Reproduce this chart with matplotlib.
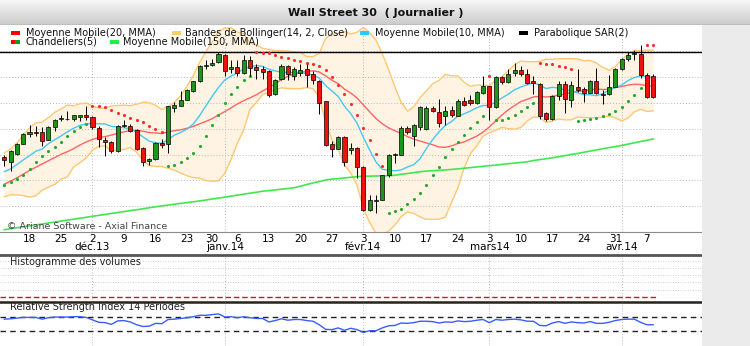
import numpy as np
import matplotlib
matplotlib.use('Agg')
import matplotlib.pyplot as plt
import matplotlib.transforms as mtrans
from matplotlib.patches import Rectangle
from matplotlib.colors import LinearSegmentedColormap
from matplotlib.ticker import MultipleLocator

W, H = 750, 346

# trading days 12 nov 2013 -> 8 apr 2014 (index positions), weekly + monthly labels
day_pos = [4, 9, 14, 19, 24, 29, 33, 37, 42, 47, 52, 57, 62, 67, 72, 77, 82, 87, 92, 97, 102]
day_labels = ['18', '25', '2', '9', '16', '23', '30', '6', '13', '20', '27', '3', '10', '17',
              '24', '3', '10', '17', '24', '31', '7']
month_pos = [14, 35, 57, 77, 98]
month_labels = ['déc.13', 'janv.14', 'févr.14', 'mars14', 'avr.14']

opens = [15782, 15743, 15808, 15885, 15962, 15975, 15975, 15916, 16014, 16076,
         16078, 16076, 16092, 16110, 16090, 16005, 15915, 15895, 15826, 16022,
         16025, 15989, 15852, 15748, 15762, 15890, 15880, 16161, 16180, 16226,
         16290, 16368, 16490, 16497, 16515, 16574, 16460, 16480, 16432, 16530,
         16478, 16463, 16445, 16270, 16385, 16484, 16412, 16432, 16463, 16427,
         16368, 16213, 15883, 15844, 15937, 15835, 15850, 15705, 15369, 15440,
         15447, 15638, 15797, 15800, 16007, 15942, 16010, 15995, 16161, 16128,
         16100, 16143, 16102, 16213, 16226, 16200, 16277, 16329, 16169, 16401,
         16360, 16430, 16455, 16428, 16371, 16345, 16119, 16072, 16254, 16345,
         16225, 16326, 16305, 16279, 16373, 16268, 16269, 16326, 16462, 16540,
         16580, 16582, 16418, 16410]
highs = [15800, 15835, 15890, 15968, 16030, 16020, 16010, 16025, 16076, 16110,
         16135, 16110, 16110, 16180, 16097, 16020, 15940, 15903, 16032, 16066,
         16035, 16000, 15860, 15775, 15895, 15920, 16180, 16205, 16290, 16308,
         16370, 16492, 16535, 16540, 16593, 16582, 16535, 16530, 16573, 16560,
         16500, 16485, 16453, 16385, 16505, 16497, 16480, 16505, 16505, 16445,
         16375, 16215, 15903, 15947, 15942, 15890, 15860, 15710, 15490, 15490,
         15645, 15808, 15813, 16025, 16025, 16040, 16175, 16180, 16180, 16230,
         16174, 16180, 16232, 16245, 16265, 16290, 16406, 16334, 16410, 16411,
         16463, 16510, 16488, 16460, 16410, 16358, 16130, 16260, 16370, 16370,
         16370, 16462, 16326, 16378, 16470, 16300, 16417, 16470, 16548, 16592,
         16608, 16652, 16431, 16425]
lows = [15710, 15676, 15800, 15880, 15935, 15945, 15865, 15911, 15980, 16060,
        16070, 16060, 16060, 16070, 15999, 15860, 15787, 15813, 15818, 16014,
        15975, 15835, 15710, 15723, 15757, 15852, 15813, 16128, 16174, 16220,
        16285, 16360, 16463, 16489, 16510, 16410, 16432, 16410, 16425, 16410,
        16385, 16385, 16245, 16265, 16380, 16380, 16380, 16405, 16324, 16350,
        16112, 15870, 15782, 15840, 15710, 15805, 15620, 15360, 15362, 15350,
        15445, 15630, 15736, 15800, 15963, 15865, 15990, 15990, 16128, 16015,
        16032, 16090, 16097, 16174, 16187, 16195, 16272, 16071, 16161, 16350,
        16355, 16412, 16410, 16345, 16267, 16072, 16060, 16070, 16224, 16124,
        16169, 16287, 16208, 16274, 16269, 16190, 16260, 16320, 16452, 16522,
        16530, 16392, 16242, 16242]
closes = [15756, 15831, 15883, 15963, 15975, 15968, 15903, 16014, 16071, 16080,
          16075, 16104, 16104, 16090, 16014, 15920, 15898, 15826, 16025, 16028,
          15985, 15840, 15741, 15765, 15890, 15878, 16174, 16187, 16226, 16303,
          16368, 16489, 16497, 16510, 16582, 16445, 16480, 16432, 16535, 16471,
          16452, 16440, 16265, 16375, 16490, 16425, 16463, 16458, 16420, 16380,
          16200, 15878, 15844, 15937, 15741, 15852, 15705, 15369, 15447, 15447,
          15638, 15800, 15803, 16007, 15973, 16032, 16165, 16160, 16135, 16045,
          16135, 16110, 16213, 16187, 16200, 16283, 16329, 16169, 16401, 16360,
          16427, 16456, 16428, 16358, 16353, 16098, 16072, 16254, 16345, 16228,
          16340, 16300, 16279, 16373, 16274, 16264, 16326, 16462, 16540, 16574,
          16582, 16418, 16248, 16248]

ma10 = [15668, 15689, 15723, 15758, 15791, 15826, 15842, 15884, 15915, 15944,
        15976, 16004, 16026, 16038, 16042, 16038, 16037, 16018, 16014, 16008,
        15999, 15973, 15937, 15904, 15892, 15888, 15915, 15951, 15971, 15999,
        16037, 16102, 16178, 16252, 16321, 16378, 16409, 16433, 16464, 16481,
        16489, 16484, 16461, 16448, 16438, 16436, 16435, 16437, 16426, 16417,
        16392, 16335, 16293, 16250, 16175, 16117, 16042, 15933, 15835, 15742,
        15686, 15678, 15674, 15681, 15704, 15722, 15768, 15847, 15916, 15976,
        16026, 16056, 16098, 16116, 16138, 16163, 16180, 16181, 16207, 16239,
        16268, 16302, 16324, 16341, 16356, 16338, 16312, 16321, 16315, 16302,
        16293, 16278, 16263, 16264, 16256, 16273, 16298, 16319, 16339, 16373,
        16397, 16409, 16406, 16394]
ma20 = [15571, 15594, 15620, 15648, 15677, 15702, 15727, 15752, 15777, 15802,
        15822, 15846, 15874, 15898, 15917, 15932, 15939, 15951, 15964, 15976,
        15988, 15988, 15981, 15971, 15967, 15963, 15976, 15985, 15992, 16004,
        16018, 16038, 16057, 16078, 16107, 16133, 16162, 16192, 16218, 16240,
        16263, 16293, 16319, 16350, 16380, 16407, 16422, 16435, 16445, 16449,
        16440, 16410, 16377, 16349, 16307, 16277, 16238, 16185, 16131, 16079,
        16039, 16007, 15984, 15965, 15939, 15920, 15905, 15890, 15876, 15859,
        15856, 15867, 15886, 15898, 15921, 15943, 15974, 16014, 16062, 16107,
        16147, 16180, 16211, 16228, 16247, 16251, 16246, 16251, 16261, 16270,
        16281, 16290, 16293, 16303, 16306, 16305, 16305, 16320, 16327, 16338,
        16345, 16343, 16334, 16329]
bb_up = [15813, 15844, 15890, 15951, 16005, 16046, 16052, 16086, 16127, 16153,
         16183, 16178, 16194, 16200, 16176, 16161, 16158, 16176, 16180, 16183,
         16179, 16190, 16206, 16202, 16182, 16150, 16173, 16203, 16255, 16330,
         16412, 16512, 16597, 16672, 16754, 16781, 16781, 16749, 16736, 16664,
         16650, 16624, 16614, 16604, 16606, 16602, 16598, 16591, 16560, 16559,
         16585, 16699, 16736, 16735, 16754, 16734, 16748, 16785, 16743, 16687,
         16582, 16458, 16323, 16205, 16137, 16170, 16242, 16293, 16349, 16375,
         16421, 16411, 16410, 16360, 16330, 16339, 16338, 16335, 16378, 16402,
         16449, 16496, 16525, 16519, 16520, 16522, 16539, 16538, 16543, 16543,
         16544, 16541, 16527, 16529, 16509, 16476, 16453, 16482, 16533, 16580,
         16603, 16607, 16610, 16608]
bb_lo = [15473, 15488, 15488, 15483, 15470, 15480, 15524, 15548, 15568, 15609,
         15626, 15704, 15736, 15774, 15835, 15863, 15867, 15830, 15834, 15839,
         15855, 15818, 15755, 15715, 15708, 15707, 15694, 15679, 15657, 15636,
         15622, 15617, 15599, 15593, 15596, 15655, 15761, 15888, 15993, 16150,
         16204, 16266, 16282, 16302, 16317, 16312, 16311, 16311, 16319, 16311,
         16245, 16051, 15915, 15841, 15720, 15656, 15562, 15381, 15274, 15190,
         15177, 15207, 15255, 15319, 15355, 15344, 15317, 15298, 15298, 15300,
         15315, 15431, 15542, 15698, 15808, 15868, 15944, 15970, 15988, 16011,
         16001, 15997, 16010, 16060, 16091, 16087, 16049, 16060, 16076, 16069,
         16069, 16091, 16087, 16086, 16085, 16090, 16099, 16085, 16060, 16082,
         16131, 16151, 16134, 16139]
ma150 = [15218, 15225, 15233, 15240, 15248, 15255, 15262, 15270, 15277, 15285,
         15292, 15299, 15307, 15314, 15322, 15329, 15336, 15344, 15351, 15358,
         15366, 15372, 15380, 15388, 15395, 15402, 15409, 15415, 15422, 15428,
         15434, 15441, 15448, 15456, 15463, 15470, 15478, 15486, 15493, 15501,
         15508, 15516, 15521, 15526, 15532, 15537, 15543, 15555, 15568, 15580,
         15591, 15603, 15610, 15614, 15619, 15624, 15629, 15632, 15633, 15634,
         15635, 15636, 15640, 15647, 15653, 15660, 15667, 15672, 15675, 15678,
         15681, 15685, 15689, 15694, 15699, 15704, 15709, 15714, 15718, 15724,
         15729, 15734, 15739, 15744, 15754, 15761, 15768, 15775, 15783, 15792,
         15801, 15809, 15818, 15827, 15836, 15845, 15854, 15862, 15871, 15881,
         15891, 15901, 15911, 15921]
sar = [15568, 15587, 15611, 15645, 15690, 15744, 15790, 15829, 15861, 15900,
       15942, 15980, 16011, 16036, 16180, 16180, 16167, 16144, 16123, 16103,
       16084, 16066, 16049, 16022, 15997, 15974, 15710, 15719, 15739, 15772,
       15815, 15870, 15945, 16028, 16110, 16197, 16268, 16326, 16374, 16410,
       16593, 16589, 16585, 16571, 16558, 16546, 16534, 16522, 16511, 16505,
       16490, 16455, 16400, 16342, 16272, 16195, 16105, 16005, 15910, 15805,
       15715, 15350, 15359, 15377, 15416, 15453, 15500, 15567, 15641, 15705,
       15779, 15842, 15896, 15950, 16003, 16056, 16102, 16406, 16071, 16071,
       16085, 16107, 16140, 16169, 16196, 16510, 16501, 16498, 16490, 16482,
       16465, 16060, 16068, 16076, 16084, 16099, 16114, 16135, 16165, 16212,
       16262, 16315, 16652, 16652]
# 1 = dot under the price (green), 0 = dot above (red)
sar_long = [1] * 14 + [0] * 12 + [1] * 14 + [0] * 21 + [1] * 16 + [0] + [1] * 7 + \
           [0] * 6 + [1] * 11 + [0] * 2
rsi = [63, 64, 66, 68, 68, 68, 63, 67, 69, 69,
       69, 70, 70, 68, 61, 54, 53, 48, 58, 59,
       55, 47, 42, 43, 51, 50, 62, 63, 65, 67,
       70, 74, 74, 76, 78, 69, 70, 67, 70, 67,
       65, 65, 55, 59, 64, 60, 62, 62, 59, 57,
       47, 34, 33, 38, 31, 37, 33, 25, 30, 30,
       38, 44, 45, 52, 51, 53, 57, 57, 56, 52,
       55, 54, 58, 56, 57, 60, 62, 53, 62, 60,
       62, 63, 61, 57, 57, 45, 44, 52, 56, 51,
       55, 53, 52, 56, 51, 51, 54, 59, 62, 63,
       63, 54, 47, 47]

n = len(closes)
x = np.arange(n)

fig = plt.figure(figsize=(7.5, 3.46), dpi=100)
fig.patch.set_facecolor('white')


def rect(x0, y0, x1, y1):
    # pixel box (top-left origin) -> figure fraction
    return [x0 / W, 1 - y1 / H, (x1 - x0) / W, (y1 - y0) / H]


fig.patches.append(Rectangle((702 / W, 0), 48 / W, 1 - 25 / H, transform=fig.transFigure,
                             facecolor='#ebebeb', edgecolor='none', zorder=0))

# title bar
axt = fig.add_axes(rect(0, 0, 750, 25))
grad = np.linspace(0, 1, 64).reshape(-1, 1)
axt.imshow(grad, aspect='auto', cmap=LinearSegmentedColormap.from_list('g', ['#f6f6f6', '#cbcbcb']),
           extent=[0, 1, 0, 1])
axt.axhline(0.01, color='#8c8c8c', lw=1)
axt.set_axis_off()
fig.text(376 / W, 1 - 13.5 / H, 'Wall Street 30  ( Journalier )', ha='center', va='center',
         fontsize=8, fontweight='bold', color='#111111')

XL = (-0.683, 110.75)

# ---- price panel ----
ax = fig.add_axes(rect(0, 25, 702, 232))
ax.set_xlim(*XL)
ax.set_ylim(15200, 16804)
ax.set_facecolor('none')
for sp in ['top', 'left', 'right']:
    ax.spines[sp].set_visible(False)
ax.spines['bottom'].set_color('#8a8a8a')
ax.yaxis.tick_right()
ax.set_yticks(range(15200, 16601, 200))
ax.set_yticklabels([f'{v // 1000} {v % 1000:03d}' for v in range(15200, 16601, 200)])
ax.yaxis.set_minor_locator(MultipleLocator(40))
ax.tick_params(axis='y', which='both', direction='out', length=3, width=0.6, color='#555555',
               pad=2.5, labelsize=8.5)
ax.set_xticks(day_pos)
ax.set_xticklabels(day_labels)
ax.tick_params(axis='x', length=0, pad=1.5, labelsize=7.5)
tr = mtrans.blended_transform_factory(ax.transData, fig.transFigure)
for p, lab in zip(month_pos, month_labels):
    ax.text(p, 1 - 247 / H, lab, transform=tr, ha='center', va='center', fontsize=7.5,
            clip_on=False)

for v in range(15400, 16601, 200):
    ax.axhline(v, color='#b8b8b8', lw=0.7, ls=(0, (1, 2)), zorder=1.2)
for p in month_pos:
    ax.axvline(p, color='#b8b8b8', lw=0.7, ls=(0, (1, 2)), zorder=1.2)

ax.fill_between(x, bb_lo, bb_up, color='#fff4e3', lw=0, zorder=1)
ax.plot(x, bb_up, color='#ffc870', lw=1, zorder=2)
ax.plot(x, bb_lo, color='#ffc870', lw=1, zorder=2)
ax.axhline(16598, color='black', lw=1, zorder=2.2)
ax.plot(x, ma150, color='#40e850', lw=1.2, zorder=2.5)
ax.plot(x, ma20, color='#ff6464', lw=1, zorder=2.5)
ax.plot(x, ma10, color='#45c8f2', lw=1, zorder=2.6)

sar_a = np.array(sar)
up = np.array(sar_long) == 1
ax.scatter(x[up], sar_a[up], s=5, color='#22a82a', lw=0, zorder=3)
ax.scatter(x[~up], sar_a[~up], s=5, color='#ff2a2a', lw=0, zorder=3)

o = np.array(opens)
c = np.array(closes)
ax.vlines(x, lows, highs, color='black', lw=0.7, zorder=3.5)
body_lo = np.minimum(o, c)
body_h = np.maximum(np.abs(c - o), 4)
cols = np.where(c >= o, '#1c961c', '#f01010')
ax.bar(x, body_h, width=0.64, bottom=body_lo, color=cols, edgecolor='black', lw=0.5, zorder=4)

fig.text(7 / W, 1 - 226.5 / H, '© Ariane Software - Axial Finance', fontsize=6.8,
         color='#444444', va='center')


# legend
def sq(x0, y0, w, h, color):
    fig.patches.append(Rectangle((x0 / W, 1 - (y0 + h) / H), w / W, h / H,
                                 transform=fig.transFigure, facecolor=color, edgecolor='none',
                                 zorder=5))


legend_items = [
    (10.5, 30.8, '#ff0000', 25.5, 'Moyenne Mobile(20, MMA)'),
    (171.5, 30.8, '#ffcc66', 185, 'Bandes de Bollinger(14, 2, Close)'),
    (360, 30.8, '#22ccff', 375, 'Moyenne Mobile(10, MMA)'),
    (519, 30.8, '#000000', 534, 'Parabolique SAR(2)'),
    (110, 39.5, '#22ee44', 123.5, 'Moyenne Mobile(150, MMA)'),
]
for sx, sy, col, tx, lab in legend_items:
    sq(sx, sy, 9.3, 4.4, col)
    fig.text(tx / W, 1 - (sy + 2.2) / H, lab, fontsize=7, va='center', color='#111111')
sq(10.5, 39.5, 4.6, 4.4, '#ff0000')
sq(15.1, 39.5, 4.7, 4.4, '#1c961c')
fig.text(25.5 / W, 1 - 41.7 / H, 'Chandeliers(5)', fontsize=7, va='center', color='#111111')

# ---- volume panel (empty) ----
axv = fig.add_axes(rect(0, 255, 702, 302))
axv.set_xlim(*XL)
axv.set_ylim(-1.38, 11.57)
axv.set_facecolor('none')
axv.spines['left'].set_visible(False)
axv.spines['right'].set_visible(False)
axv.spines['top'].set_color('#555555')
axv.spines['top'].set_linewidth(2)
axv.spines['bottom'].set_color('#222222')
axv.spines['bottom'].set_linewidth(1.8)
axv.set_xticks([])
axv.yaxis.tick_right()
axv.set_yticks(range(0, 11, 2))
axv.tick_params(axis='y', length=0, pad=3, labelsize=6.5)
for v in range(2, 11, 2):
    axv.axhline(v, color='#c0c0c0', lw=0.6, ls=(0, (1, 2)))
for p in month_pos:
    axv.axvline(p, color='#b8b8b8', lw=0.7, ls=(0, (1, 2)))
axv.hlines(0, x[0] - 0.7, x[-1] + 0.6, color='#e01010', lw=1, ls=(0, (4, 2)))
axv.text(10 / 702, 1 - 7 / 47, 'Histogramme des volumes', transform=axv.transAxes,
         fontsize=7, va='center', color='#222222')

# ---- RSI panel ----
axr = fig.add_axes(rect(0, 302, 702, 346))
axr.set_xlim(*XL)
axr.set_ylim(-13.7, 112)
axr.set_facecolor('none')
for sp in ['top', 'left', 'right', 'bottom']:
    axr.spines[sp].set_visible(False)
axr.set_xticks([])
axr.yaxis.tick_right()
axr.set_yticks(range(0, 101, 20))
axr.tick_params(axis='y', length=0, pad=3, labelsize=6.5)
for p in month_pos:
    axr.axvline(p, color='#b8b8b8', lw=0.7, ls=(0, (1, 2)))
axr.axhline(70, color='#222222', lw=1, ls=(0, (4, 3)))
axr.axhline(30, color='#222222', lw=1, ls=(0, (4, 3)))
axr.plot(x, rsi, color='#3a5cff', lw=1)
axr.text(10 / 702, 1 - 5 / 44, 'Relative Strength Index 14 Périodes', transform=axr.transAxes,
         fontsize=7, va='center', color='#222222')

fig.savefig('out.png', dpi=100, facecolor='white')
